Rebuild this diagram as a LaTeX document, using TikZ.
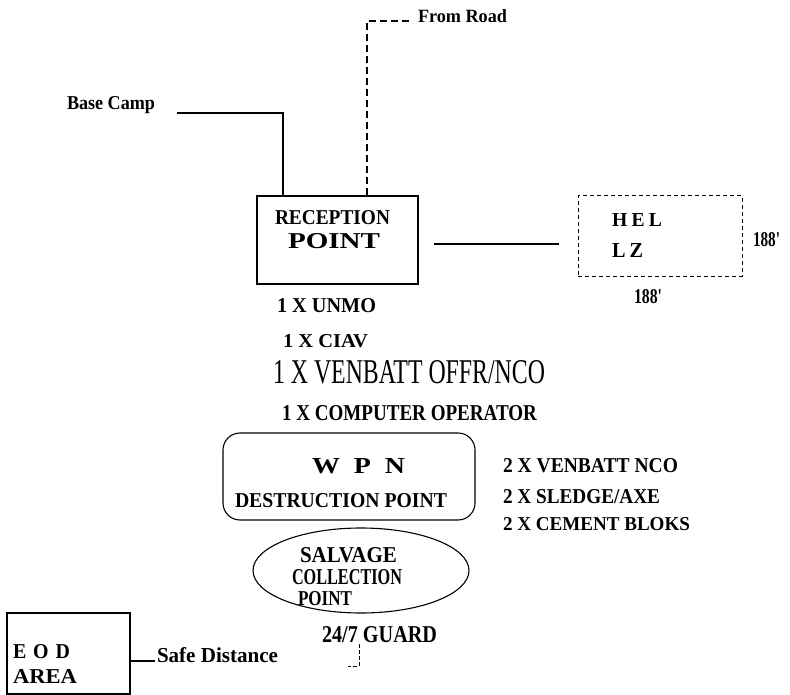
\documentclass[tikz,border=0pt]{standalone}
\usepackage{fontspec}
\setmainfont{Liberation Serif}
\usepackage{graphicx}
\usetikzlibrary{shapes.geometric}
\newcommand{\fitbox}[3]{\resizebox{#1pt}{#2pt}{#3}}
\begin{document}
\begin{tikzpicture}[x=1pt,y=-1pt,
  lbl/.style={inner sep=0pt, outer sep=0pt, anchor=base west, font=\bfseries},
  lblr/.style={lbl, font=\mdseries},
  boxs/.style={draw, line width=1.1pt, inner sep=0pt},
  conn/.style={line width=1.4pt},
  dashline/.style={line width=1.1pt, dash pattern=on 7pt off 4pt},
  helbox/.style={boxs, line width=1pt, dash pattern=on 4pt off 3pt},
  guardline/.style={line width=0.9pt, dash pattern=on 4pt off 2pt}]
\fill[white] (0,0) rectangle (790,695);
\useasboundingbox (0,0) rectangle (790,695);

% boxes
\node[boxs, minimum width=161pt, minimum height=88pt] (recep) at (337.5,240) {};
\node[helbox, minimum width=164pt, minimum height=80pt] (hel) at (660,236) {};
\node[boxs, rounded corners=17pt, minimum width=252pt, minimum height=87pt] (wpn) at (349,476.5) {};
\node[boxs, ellipse, minimum width=216pt, minimum height=85pt] (salv) at (361,570.5) {};
\node[boxs, minimum width=123pt, minimum height=81pt] (eod) at (68.5,653.5) {};

% labels
\node[lbl] (basecamp) at (67,110) {\fitbox{88}{13}{Base Camp}};
\node[lbl] (fromroad) at (418,23) {\fitbox{89}{13}{From Road}};
\node[lbl] (recepT1) at (275,225) {\fitbox{115}{14}{RECEPTION}};
\node[lbl] (recepT2) at (288,248) {\fitbox{92}{15}{POINT}};
\node[lbl] (helT1) at (612,227) {\fitbox{50}{13}{H\hspace{0.22em}E\hspace{0.22em}L}};
\node[lbl] (helT2) at (612,258) {\fitbox{31}{14}{L\hspace{0.2em}Z}};
\node[lbl] (dimR) at (753,247) {\fitbox{27}{14}{188\textquotesingle}};
\node[lbl] (dimB) at (634,303) {\fitbox{28}{14}{188\textquotesingle}};
\node[lbl] (unmo) at (277,312) {\fitbox{99}{14}{1 X UNMO}};
\node[lbl] (ciav) at (283,347) {\fitbox{85}{13}{1 X CIAV}};
\node[lblr] (venoffr) at (273,383) {\fitbox{272}{23}{1 X VENBATT OFFR/NCO}};
\node[lbl] (comp) at (282,420) {\fitbox{255}{15}{1 X COMPUTER OPERATOR}};
\node[lbl] (wpnT1) at (312,473) {\fitbox{93}{15}{W\hspace{0.5em}P\hspace{0.5em}N}};
\node[lbl] (wpnT2) at (235,507) {\fitbox{212}{14}{DESTRUCTION POINT}};
\node[lbl] (vnco) at (503,472) {\fitbox{175}{14}{2 X VENBATT NCO}};
\node[lbl] (sledge) at (503,503) {\fitbox{157}{14}{2 X SLEDGE/AXE}};
\node[lbl] (cement) at (503,530) {\fitbox{187}{13}{2 X CEMENT BLOKS}};
\node[lbl] (salvT1) at (300,562) {\fitbox{97}{15}{SALVAGE}};
\node[lbl] (salvT2) at (292,584) {\fitbox{110}{15}{COLLECTION}};
\node[lbl] (salvT3) at (298,605) {\fitbox{54}{14}{POINT}};
\node[lbl] (guard) at (322,642) {\fitbox{115}{16}{24/7 GUARD}};
\node[lbl] (eodT1) at (13,658) {\fitbox{57}{14}{E\hspace{0.35em}O\hspace{0.35em}D}};
\node[lbl] (eodT2) at (13,683) {\fitbox{64}{14}{AREA}};
\node[lbl] (safe) at (157,662) {\fitbox{121}{15}{Safe Distance}};

% connectors
\coordinate (bcEnd) at (177,113);
\draw[conn] (bcEnd) -| ([xshift=-54.5pt]recep.north);
\coordinate (roadEnd) at (412,21);
\draw[dashline] ([xshift=29.5pt]recep.north) |- (roadEnd);
\draw[conn] ([shift={(15pt,-4pt)}]recep.east) -- ([shift={(-19pt,-8pt)}]hel.west);
\draw[conn] ([yshift=-7.5pt]eod.east) -- ([xshift=-2pt,yshift=1pt]safe.base west);
\coordinate (gEnd) at (348,666);
\draw[guardline] ([xshift=37pt,yshift=-2pt]guard.base west) |- (gEnd);
\end{tikzpicture}
\end{document}
